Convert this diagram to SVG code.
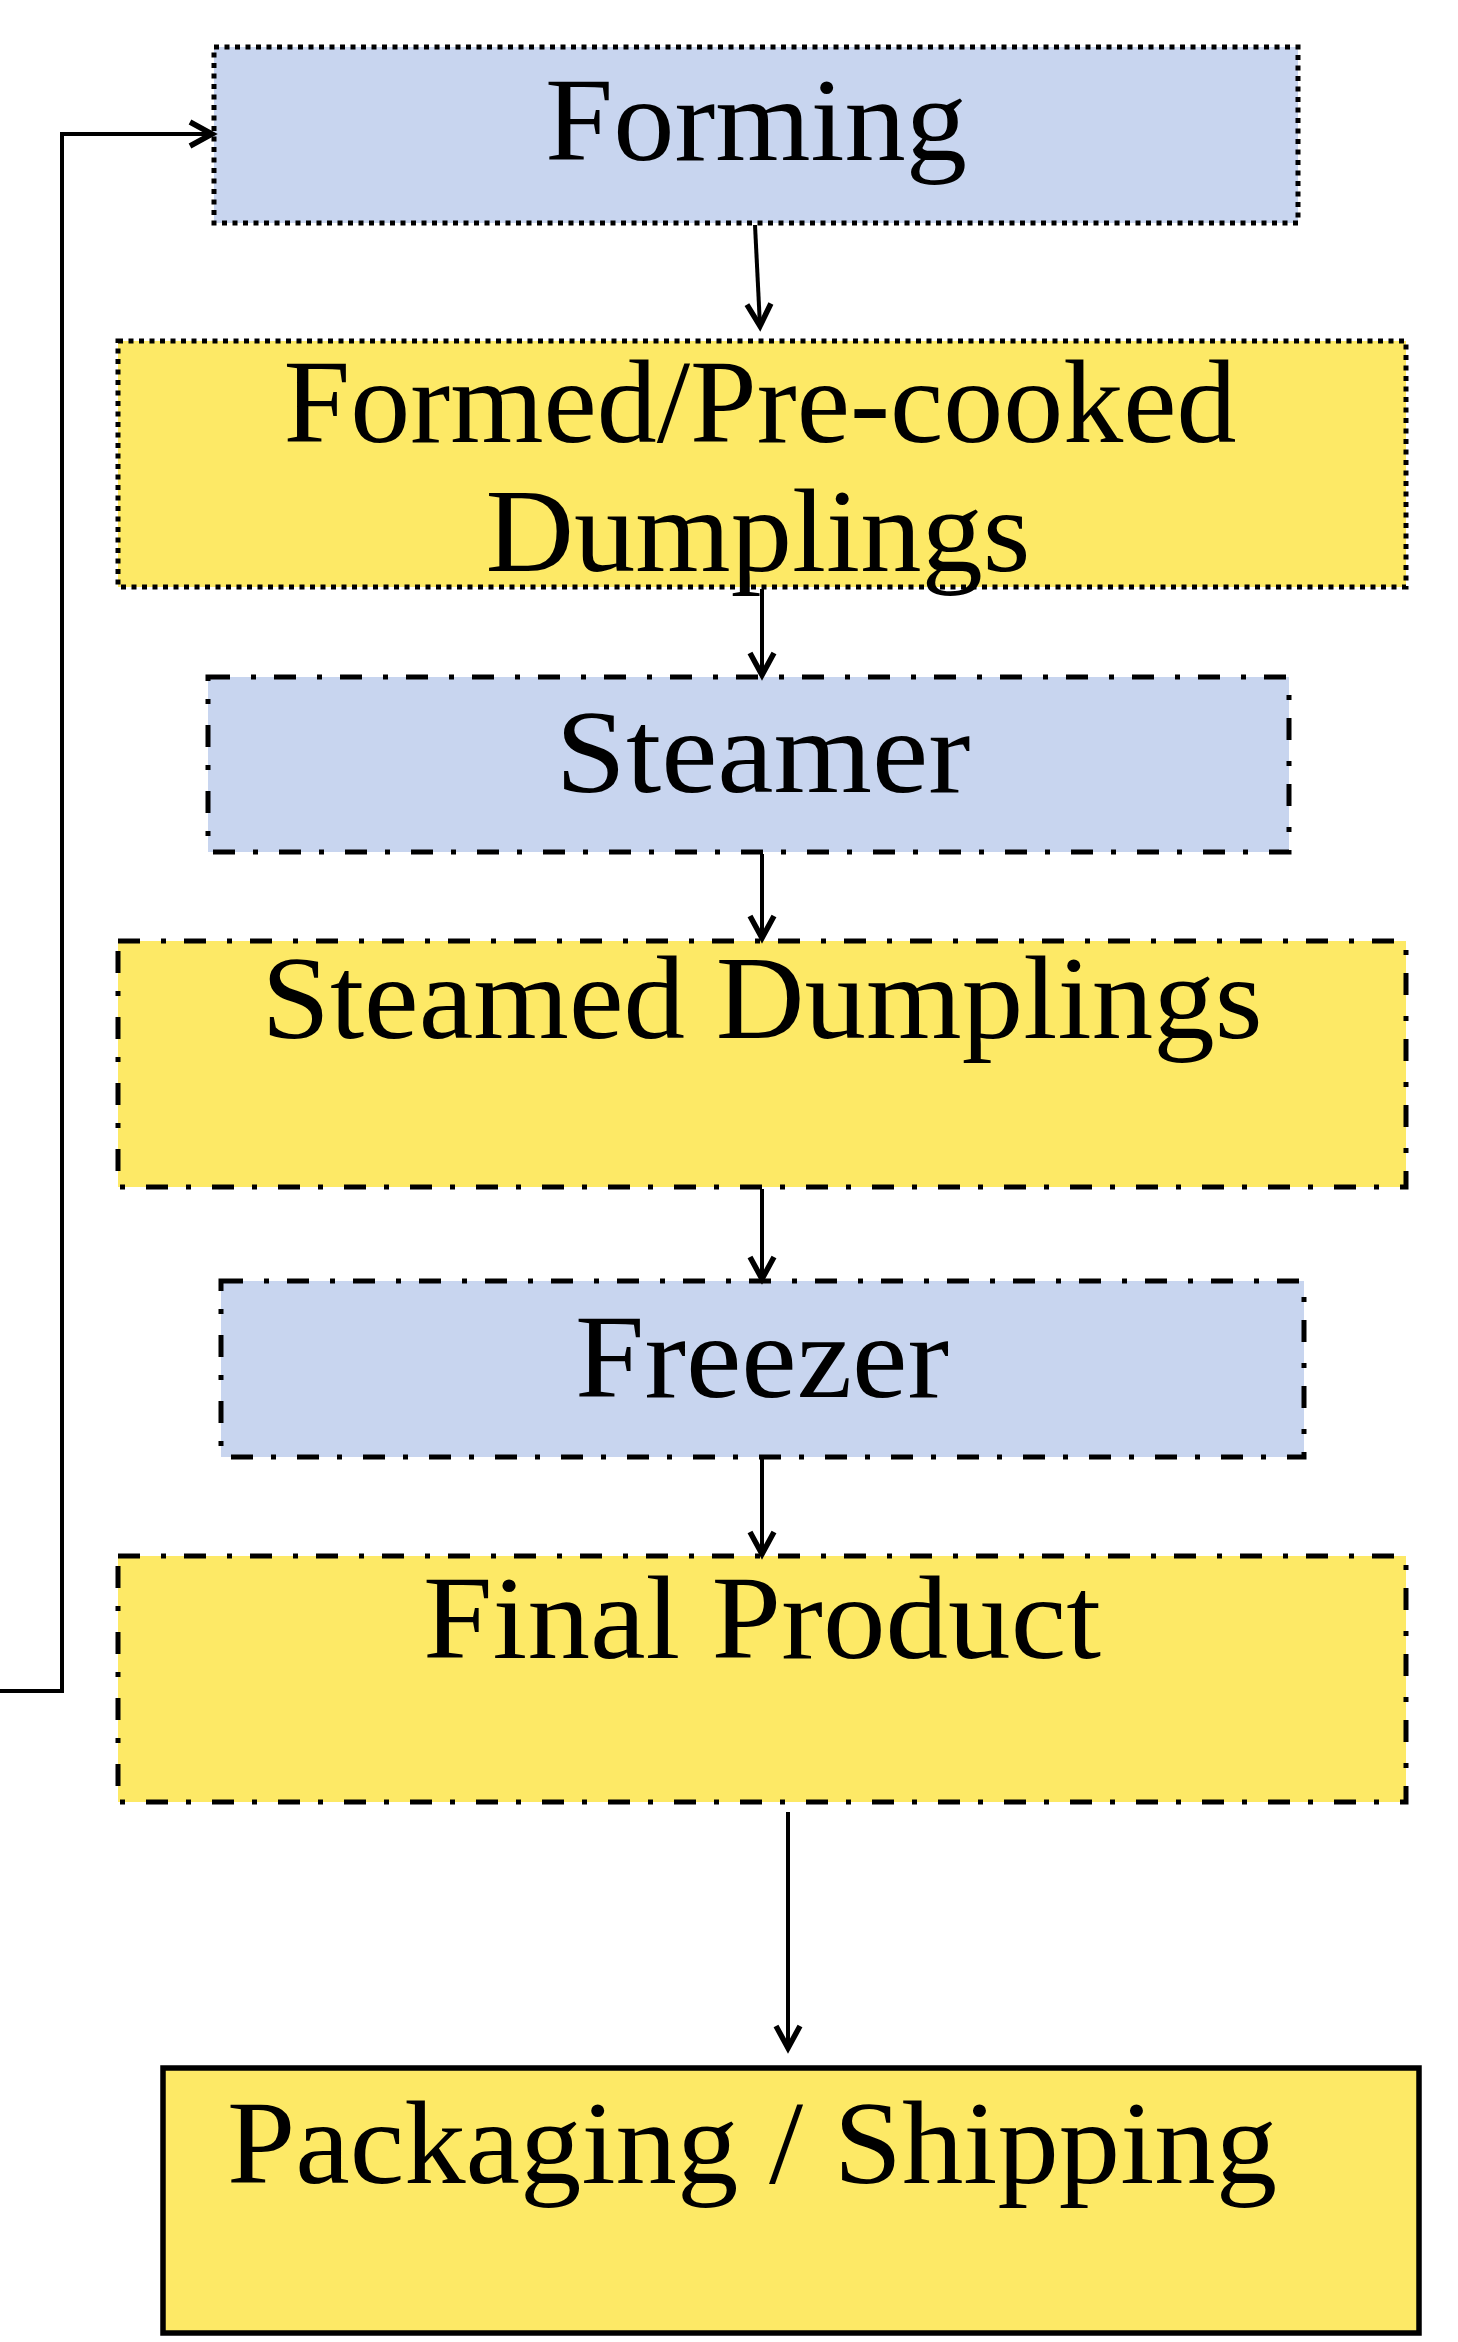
<svg xmlns="http://www.w3.org/2000/svg" width="1458" height="2342" viewBox="0 0 1458 2342">
<style>
.blue{fill:#c8d5ef}
.yellow{fill:#fde966}
.dot{stroke:#000;stroke-width:5;stroke-dasharray:5 5.5}
.dd{stroke:#000;stroke-width:5;stroke-dasharray:22 21 5 18}
.solid{stroke:#000;stroke-width:5.5}
.lbl{font-family:"Liberation Serif","Times New Roman",serif;font-size:118px;fill:#000;text-anchor:middle}
.con{fill:none;stroke:#000;stroke-width:4}
</style>
<defs>
<marker id="ah" markerUnits="userSpaceOnUse" markerWidth="40" markerHeight="40" viewBox="-30 -20 40 40" refX="0" refY="0" orient="auto">
<path d="M-22,-12 L0,0 L-22,12" fill="none" stroke="#000" stroke-width="5.5"/>
</marker>
</defs>
<rect width="1458" height="2342" fill="#fff"/>
<g id="forming">
<rect class="blue dot" x="214" y="47" width="1084" height="176"/>
<text class="lbl" x="756" y="160" textLength="422" lengthAdjust="spacingAndGlyphs">Forming</text>
</g>
<g id="formed">
<rect class="yellow dot" x="118" y="341" width="1288" height="246"/>
<text class="lbl" x="760" y="442" textLength="953" lengthAdjust="spacingAndGlyphs">Formed/Pre-cooked</text>
<text class="lbl" x="758" y="571" textLength="545" lengthAdjust="spacingAndGlyphs">Dumplings</text>
</g>
<g id="steamer">
<rect class="blue dd" x="208" y="677" width="1081" height="175"/>
<text class="lbl" x="763" y="792" textLength="415" lengthAdjust="spacingAndGlyphs">Steamer</text>
</g>
<g id="steamed">
<rect class="yellow dd" x="118" y="941" width="1288" height="246"/>
<text class="lbl" x="762" y="1038" textLength="1001" lengthAdjust="spacingAndGlyphs">Steamed Dumplings</text>
</g>
<g id="freezer">
<rect class="blue dd" x="221" y="1281" width="1083" height="176"/>
<text class="lbl" x="762" y="1397" textLength="374" lengthAdjust="spacingAndGlyphs">Freezer</text>
</g>
<g id="final">
<rect class="yellow dd" x="118" y="1556" width="1288" height="246"/>
<text class="lbl" x="762" y="1658" textLength="678" lengthAdjust="spacingAndGlyphs">Final Product</text>
</g>
<g id="packaging">
<rect class="yellow solid" x="163" y="2068" width="1256" height="265"/>
<text class="lbl" x="752" y="2183" textLength="1050" lengthAdjust="spacingAndGlyphs">Packaging / Shipping</text>
</g>
<g id="connectors">
<line class="con" x1="755" y1="225" x2="760" y2="326" marker-end="url(#ah)"/>
<line class="con" x1="762" y1="589" x2="762" y2="675" marker-end="url(#ah)"/>
<line class="con" x1="762" y1="854" x2="762" y2="938" marker-end="url(#ah)"/>
<line class="con" x1="762" y1="1189" x2="762" y2="1279" marker-end="url(#ah)"/>
<line class="con" x1="762" y1="1459" x2="762" y2="1554" marker-end="url(#ah)"/>
<line class="con" x1="788" y1="1812" x2="788" y2="2048" marker-end="url(#ah)"/>
<polyline class="con" points="-5,1691 62,1691 62,134 212,134" marker-end="url(#ah)"/>
</g>
</svg>
